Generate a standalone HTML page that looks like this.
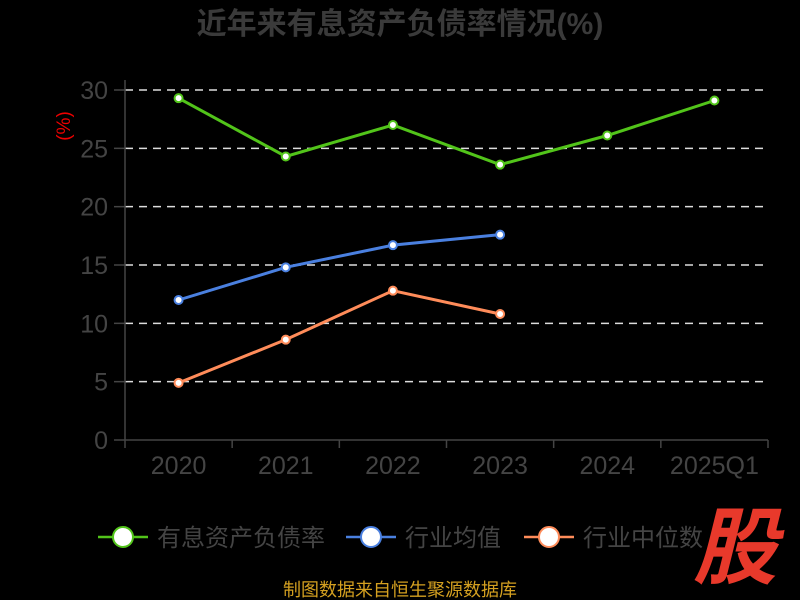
<!DOCTYPE html>
<html><head><meta charset="utf-8"><style>
body{margin:0;background:#000;}
svg{display:block;font-family:"Liberation Sans","Noto Sans CJK SC",sans-serif;}
</style></head><body>
<svg id="c" width="800" height="600">
<rect width="800" height="600" fill="#000"/>
<text x="400" y="34" text-anchor="middle" font-size="30" font-weight="bold" fill="#3a3a3a">近年来有息资产负债率情况(%)</text>
<text transform="translate(70,126) rotate(-90)" text-anchor="middle" font-size="19" fill="#e00">(%)</text>
<g id="grid"></g><g id="axes"></g><g id="series"></g>
<g id="legend"></g>
<text x="400" y="596" text-anchor="middle" font-size="18" fill="#d4a020">制图数据来自恒生聚源数据库</text>
<text x="735" y="577" text-anchor="middle" font-size="84" font-weight="bold" fill="#e8392b" font-style="italic">股</text>
</svg>
<script>
const categories=["2020","2021","2022","2023","2024","2025Q1"];
const yTicks=[0,5,10,15,20,25,30];
const debtRatio=[29.3,24.3,27.0,23.6,26.1,29.1];
const industryAvg=[12.0,14.8,16.7,17.6];
const industryMedian=[4.9,8.6,12.8,10.8];
const seriesNames=["有息资产负债率","行业均值","行业中位数"];
const colors=["#52c41a","#4a80e0","#ff8c5a"];
const NS="http://www.w3.org/2000/svg";
const L=125,R=768,T=90,B=440,bw=(R-L)/categories.length;
const x=i=>L+bw*(i+0.5), y=v=>B-(v/30)*(B-T);
function mk(t,a,p){const e=document.createElementNS(NS,t);for(const k in a)e.setAttribute(k,a[k]);p.appendChild(e);return e;}
const g=document.getElementById('grid'),ax=document.getElementById('axes'),s=document.getElementById('series'),lg=document.getElementById('legend');
yTicks.forEach(v=>{
 if(v>0){const l=mk('line',{x1:L,x2:R,y1:y(v),y2:y(v),stroke:'#ddd','stroke-dasharray':'8,6','stroke-width':1.5},g);
 }
 const tk=mk('line',{x1:114,x2:L,y1:y(v),y2:y(v),stroke:'#444','stroke-width':1.5},ax);
 
 const t=mk('text',{x:108,y:y(v)+9,'text-anchor':'end','font-size':25,fill:'#444'},ax);t.textContent=v;
 
});
const ya=mk('line',{x1:L,x2:L,y1:T-10,y2:B,stroke:'#444','stroke-width':1.5},ax);

const xa=mk('line',{x1:L,x2:R,y1:B,y2:B,stroke:'#444','stroke-width':1.5},ax);

for(let i=0;i<=categories.length;i++){const tk=mk('line',{x1:L+bw*i,x2:L+bw*i,y1:B,y2:B+8,stroke:'#444','stroke-width':1.5},ax);
 }
categories.forEach((c,i)=>{const t=mk('text',{x:x(i),y:474,'text-anchor':'middle','font-size':25,fill:'#444'},ax);t.textContent=c;
 });
[debtRatio,industryAvg,industryMedian].forEach((d,k)=>{
 const p=mk('polyline',{points:d.map((v,i)=>x(i)+','+y(v)).join(' '),fill:'none',stroke:colors[k],'stroke-width':3},s);
 
 d.forEach((v,i)=>{const c=mk('circle',{cx:x(i),cy:y(v),r:4,fill:'#fff',stroke:colors[k],'stroke-width':2},s);
  });
});
const lx=[98,346,524];
seriesNames.forEach((n,k)=>{
 const gg=mk('g',{},lg);
 mk('line',{x1:lx[k],x2:lx[k]+50,y1:537,y2:537,stroke:colors[k],'stroke-width':2.5},gg);
 mk('circle',{cx:lx[k]+25,cy:537,r:10,fill:'#fff',stroke:colors[k],'stroke-width':2},gg);
 const t=mk('text',{x:lx[k]+59,y:546,'font-size':24,fill:'#444'},gg);t.textContent=n;
});
</script>
</body></html>
